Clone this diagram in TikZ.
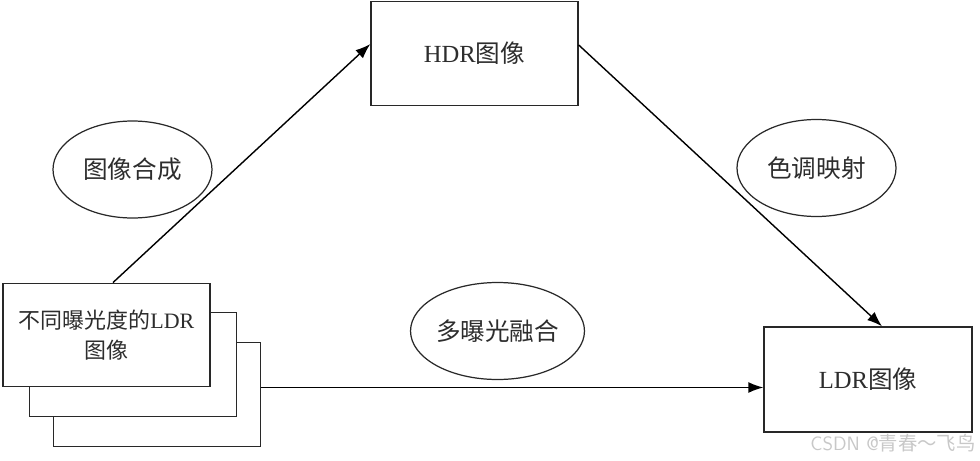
\documentclass[tikz,border=0pt]{standalone}
\usepackage{fontspec}
\setmainfont{Liberation Serif}
\newfontfamily\cjk{Noto Sans CJK SC}
\usetikzlibrary{shapes.geometric,arrows.meta,positioning}
\definecolor{LineGray}{RGB}{40,40,40}
\definecolor{TextGray}{RGB}{45,45,45}
\definecolor{MarkGray}{RGB}{200,200,200}
\tikzset{
  imgbox/.style={draw=LineGray, fill=white, line width=0.8pt, inner sep=0pt,
    minimum width=4.14cm, minimum height=2.07cm, align=center},
  stepoval/.style={draw=LineGray, ellipse, line width=0.7pt, inner sep=0pt,
    minimum width=3.18cm, minimum height=1.94cm},
  flow/.style={-{Latex[length=3mm,width=2.2mm]}, line width=0.8pt, draw=black},
  every node/.style={font=\fontsize{14}{17}\selectfont, text=TextGray}
}
\begin{document}
\begin{tikzpicture}
  \useasboundingbox (0,0) rectangle (19.6,9.2);
  % Input stack (back to front)
  \node[imgbox] (stack3) at (3.14, 1.31) {};
  \node[imgbox] (stack2) at (2.66, 1.91) {};
  \node[imgbox, font=\fontsize{12.5}{17}\selectfont] (stack1) at (2.13, 2.50) {{\cjk 不同曝光度的}LDR\\{\cjk 图像}};
  % Results
  \node[imgbox] (hdr) at (9.49, 8.13) {HDR{\cjk 图像}};
  \node[imgbox, minimum width=4.16cm, minimum height=2.1cm] (ldr) at (17.36, 1.61) {LDR{\cjk 图像}};
  % Processing steps
  \node[stepoval] (merge) at (2.65, 5.81) {\cjk 图像合成};
  \node[stepoval] (tonemap) at (16.33, 5.84) {\cjk 色调映射};
  \node[stepoval] (fusion) at (9.95, 2.58) {\cjk 多曝光融合};
  % Connections
  \draw[flow] ([xshift=0.13cm]stack1.north) -- ([yshift=0.19cm]hdr.west);
  \draw[flow] ([yshift=0.17cm]hdr.east) -- ([xshift=0.28cm]ldr.north);
  \draw[flow] ([yshift=0.14cm]stack3.east) -- ([yshift=0.14cm]stack3.east -| ldr.west);
  % Watermark
  \node[font=\fontsize{11}{13}\selectfont, text=MarkGray] (mark) at (17.86, 0.34) {\sffamily CSDN @{\cjk 青春～飞鸟}};
\end{tikzpicture}
\end{document}
